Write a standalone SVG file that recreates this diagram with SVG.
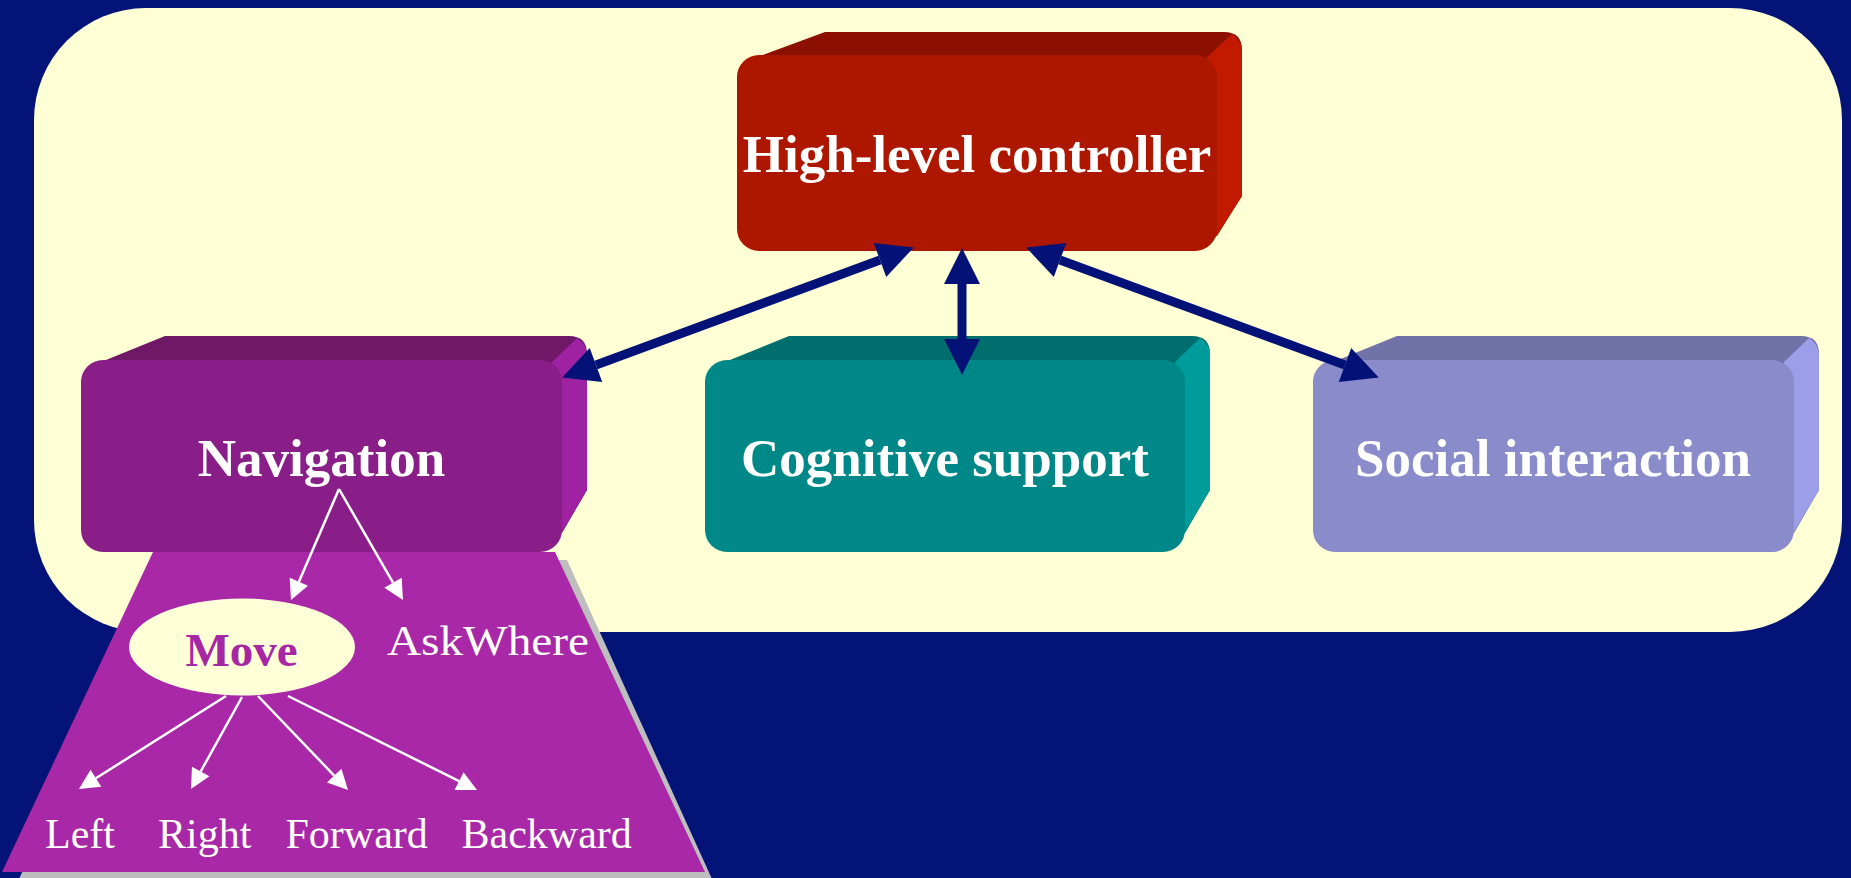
<svg xmlns="http://www.w3.org/2000/svg" width="1851" height="878" viewBox="0 0 1851 878">
<defs>
<style>
.title{font-family:"Liberation Serif","Times New Roman",serif;font-weight:bold;font-size:53px;fill:#ffffff;text-anchor:middle}
.leaf{font-family:"Liberation Serif","Times New Roman",serif;font-size:42px;fill:#ffffff}
.big{stroke:#041277;stroke-width:9;fill:none}
.thin{stroke:#ffffff;stroke-width:2.5;fill:none}
</style>
<marker id="bigHead" markerUnits="userSpaceOnUse" markerWidth="40" markerHeight="40" viewBox="0 -20 40 40" refX="0" refY="0" orient="auto-start-reverse" overflow="visible">
<path d="M0,-18 L36,0 L0,18 Z" fill="#041277"/>
</marker>
<marker id="thinHead" markerUnits="userSpaceOnUse" markerWidth="24" markerHeight="24" viewBox="0 -12 24 24" refX="0" refY="0" orient="auto" overflow="visible">
<path d="M0,-10 L20,0 L0,10 Z" fill="#ffffff"/>
</marker>
</defs>
<rect x="0" y="0" width="1851" height="878" fill="#031377"/>
<rect id="panel" x="34" y="8" width="1808" height="624" rx="112" ry="112" fill="#FFFFD5"/>

<g id="navigation-detail">
<polygon points="165,560 567,560 717,890 14,890" fill="#BEBEBE"/>
<polygon points="153,552 555,552 705,872 2,872" fill="#A828A8"/>
<ellipse cx="242" cy="647" rx="113" ry="48.5" fill="#FFFFD8"/>
<text x="241.5" y="666" font-family="Liberation Serif, Times New Roman, serif" font-weight="bold" font-size="47" fill="#A626A4" text-anchor="middle">Move</text>
<text x="387" y="655" class="leaf" font-size="46" textLength="202" lengthAdjust="spacingAndGlyphs">AskWhere</text>
<text x="45" y="848" class="leaf">Left</text>
<text x="158" y="848" class="leaf">Right</text>
<text x="285.5" y="848" class="leaf">Forward</text>
<text x="461.5" y="848" class="leaf">Backward</text>
</g>

<g id="node-high">
<path d="M757,57 L825,32 L1224,32 Q1242,32 1242,50 L1242,196 L1217,236 Z" fill="#8B1000"/>
<path d="M1207,57 L1232,34 Q1242,40 1242,52 L1242,196 L1215,238 Z" fill="#C21A00"/>
<rect x="737" y="55" width="480" height="196" rx="22" ry="22" fill="#AD1700"/>
<text x="977" y="172" class="title">High-level controller</text>
</g>

<g id="node-navigation">
<path d="M101,362 L165,336 L569,336 Q587,336 587,354 L587,490 L562,533 Z" fill="#701868"/>
<path d="M552,362 L577,338 Q587,344 587,356 L587,490 L560,535 Z" fill="#9E22A2"/>
<rect x="81" y="360" width="481" height="192" rx="22" ry="22" fill="#8A1E88"/>
<text x="321.5" y="476" class="title">Navigation</text>
</g>

<g id="node-cognitive">
<path d="M725,362 L789,336 L1192,336 Q1210,336 1210,354 L1210,490 L1185,533 Z" fill="#006E6D"/>
<path d="M1175,362 L1200,338 Q1210,344 1210,356 L1210,490 L1183,535 Z" fill="#009C9B"/>
<rect x="705" y="360" width="480" height="192" rx="22" ry="22" fill="#008787"/>
<text x="945" y="476" class="title">Cognitive support</text>
</g>

<g id="node-social">
<path d="M1333,362 L1397,336 L1801,336 Q1819,336 1819,354 L1819,490 L1794,533 Z" fill="#7072A8"/>
<path d="M1784,362 L1809,338 Q1819,344 1819,356 L1819,490 L1792,535 Z" fill="#9C9FE8"/>
<rect x="1313" y="360" width="481" height="192" rx="22" ry="22" fill="#898BCB"/>
<text x="1553" y="476" class="title">Social interaction</text>
</g>

<g id="connectors">
<line class="big" x1="596" y1="365" x2="880" y2="260" marker-start="url(#bigHead)" marker-end="url(#bigHead)"/>
<line class="big" x1="962" y1="284" x2="962" y2="339" marker-start="url(#bigHead)" marker-end="url(#bigHead)"/>
<line class="big" x1="1060" y1="260" x2="1345" y2="365" marker-start="url(#bigHead)" marker-end="url(#bigHead)"/>
<line class="thin" x1="339" y1="489" x2="298.9" y2="581.7" marker-end="url(#thinHead)"/>
<line class="thin" x1="339" y1="489" x2="393" y2="582.7" marker-end="url(#thinHead)"/>
<line class="thin" x1="226" y1="696" x2="95.9" y2="778.3" marker-end="url(#thinHead)"/>
<line class="thin" x1="242" y1="697" x2="200.7" y2="771.5" marker-end="url(#thinHead)"/>
<line class="thin" x1="258" y1="696" x2="334.2" y2="775.6" marker-end="url(#thinHead)"/>
<line class="thin" x1="288" y1="696" x2="459.1" y2="781.1" marker-end="url(#thinHead)"/>
</g>
</svg>
